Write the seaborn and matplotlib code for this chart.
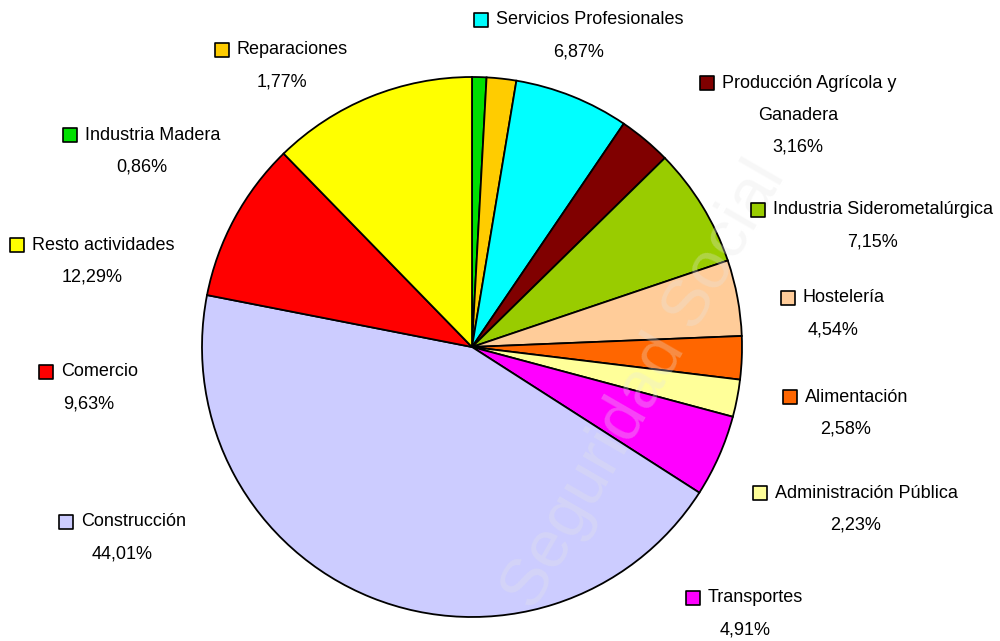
import matplotlib.pyplot as plt
import seaborn as sns
from matplotlib import font_manager

sns.set_theme(style="white")

# Datos del gráfico (orden horario desde las 12 en punto)
actividades = ['Industria Madera', 'Reparaciones', 'Servicios Profesionales',
               'Producción Agrícola y\nGanadera', 'Industria Siderometalúrgica',
               'Hostelería', 'Alimentación', 'Administración Pública',
               'Transportes', 'Construcción', 'Comercio', 'Resto actividades']
porcentajes = [0.86, 1.77, 6.87, 3.16, 7.15, 4.54, 2.58, 2.23, 4.91, 44.01, 9.63, 12.29]
colores = ['#00E000', '#FFCC00', '#00FFFF', '#800000', '#99CC00', '#FFCC99',
           '#FF6600', '#FFFF99', '#FF00FF', '#CCCCFF', '#FF0000', '#FFFF00']

# posición de cada etiqueta (caja) en píxeles
pos_caja = [(70, 135), (222, 50), (481, 20), (707, 83), (758, 210), (788, 298),
            (790, 397), (760, 493), (693, 598), (66, 522), (46, 372), (17, 245)]

nombres = [f.name for f in font_manager.fontManager.ttflist]
fuente = 'Liberation Sans Narrow' if 'Liberation Sans Narrow' in nombres else 'Liberation Sans'
plt.rcParams['font.family'] = [fuente, 'DejaVu Sans']
plt.rcParams['text.color'] = 'black'

W, H = 1000, 641
fig = plt.figure(figsize=(10, 6.41), dpi=100)
ax = fig.add_axes([0, 0, 1, 1])

ax.pie(porcentajes, colors=colores, startangle=90, counterclock=False,
       center=(472, H - 347), radius=270, frame=True,
       wedgeprops=dict(edgecolor='black', linewidth=1.3))
ax.set_xlim(0, W)
ax.set_ylim(0, H)
ax.axis('off')

# marca de agua
ax.text(645, H - 385, 'Seguridad Social', rotation=60, fontsize=48,
        color='#e6e6e6', alpha=0.3, ha='center', va='center', zorder=5)

for nombre, pct, col, (bx, by) in zip(actividades, porcentajes, colores, pos_caja):
    lineas = nombre.split('\n')
    y = H - by
    ax.scatter([bx], [y], marker='s', s=115, color=col, edgecolor='black',
               linewidth=1.2, zorder=6, clip_on=False)
    t = ax.text(bx + 15, y, lineas[0], fontsize=13, ha='left', va='center', zorder=6)
    fig.canvas.draw()
    bb = t.get_window_extent().transformed(ax.transData.inverted())
    cx = (bx - 7 + bb.x1) / 2
    for linea in lineas[1:]:
        y -= 32
        ax.text(cx, y, linea, fontsize=13, ha='center', va='center', zorder=6)
    y -= 32
    ax.text(cx, y, f'{pct:.2f}%'.replace('.', ','), fontsize=13,
            ha='center', va='center', zorder=6)

fig.savefig('out.png', dpi=100)
